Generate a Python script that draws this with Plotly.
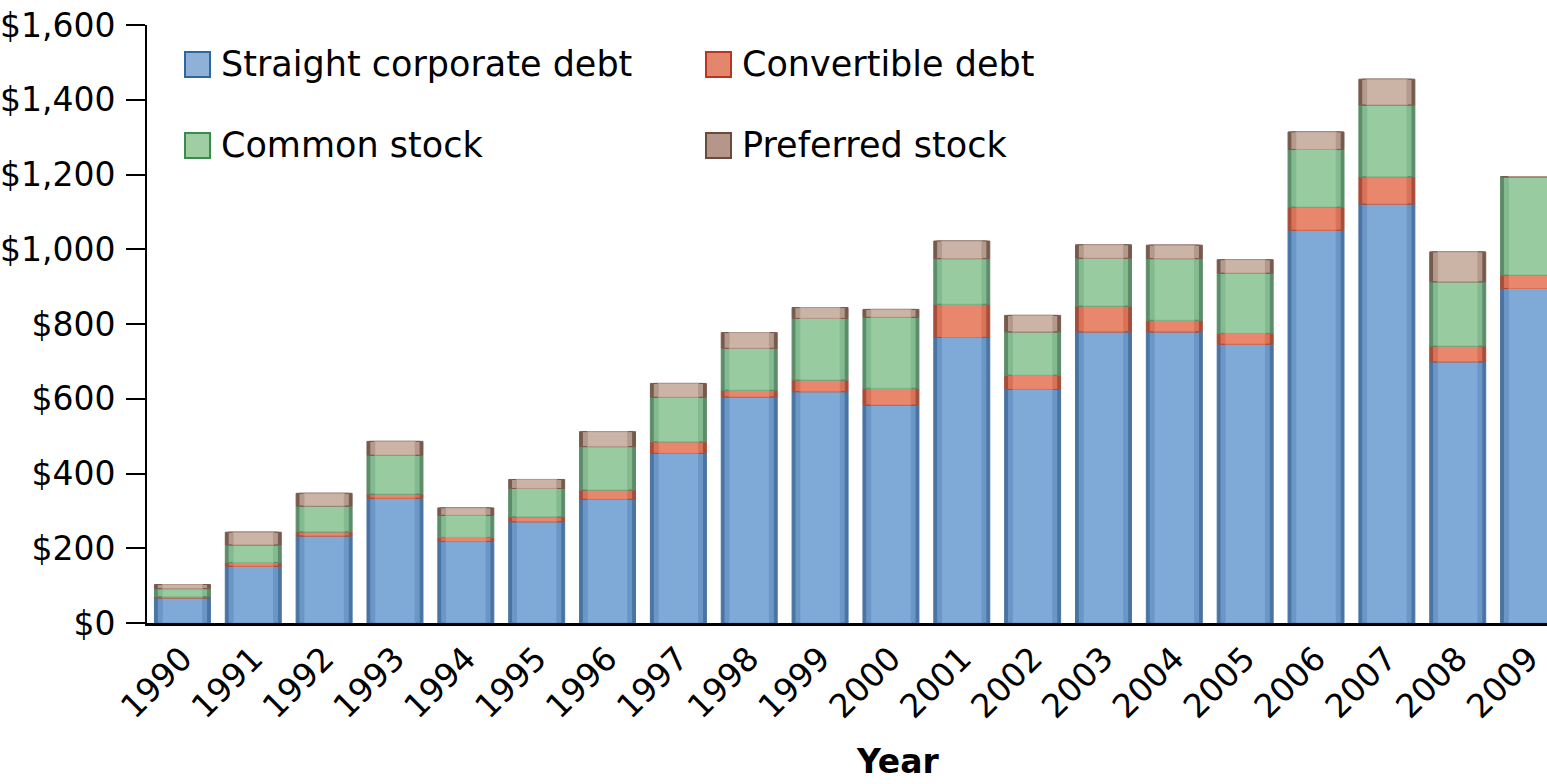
import plotly.graph_objects as go

# Annual issuance by security type ($ billions)
years = list(range(1990, 2010))
year_labels = [str(y) for y in years]

straight_debt = [67, 152, 233, 334, 218, 271, 331, 454, 605, 619,
                 583, 764, 625, 779, 779, 746, 1051, 1121, 699, 895]
convertible_debt = [4, 10, 11, 11, 11, 13, 25, 31, 18, 31,
                    45, 89, 38, 69, 31, 29, 62, 73, 42, 36]
common_stock = [21, 47, 69, 104, 59, 76, 116, 119, 112, 165,
                190, 122, 116, 128, 165, 161, 154, 192, 172, 263]
preferred_stock = [11, 34, 34, 37, 20, 24, 40, 37, 42, 29,
                   21, 47, 44, 36, 36, 36, 47, 69, 80, 0]

y_ticks = [0, 200, 400, 600, 800, 1000, 1200, 1400, 1600]
y_tick_labels = ["$0", "$200", "$400", "$600", "$800",
                 "$1,000", "$1,200", "$1,400", "$1,600"]

series_names = ["Straight corporate debt", "Convertible debt",
                "Common stock", "Preferred stock"]
series_values = [straight_debt, convertible_debt, common_stock, preferred_stock]

# edge / mid / core shades give each column a rounded, shaded look
shades = [
    ("#4a74a3", "#6b97c7", "#7faad8"),
    ("#a64e3a", "#d8735a", "#e8876b"),
    ("#5c8d6a", "#84ba8f", "#98cba0"),
    ("#785a4d", "#b39a8c", "#cbb3a6"),
]
legend_fill = ["#8fb1d7", "#e2866c", "#9fcea2", "#b4968a"]
legend_edge = ["#2d66a0", "#c0321f", "#3b8a4e", "#6b4a3c"]

FONT = "DejaVu Sans"
W, H = 1547, 784
L, R, T, B = 147, 0, 25, 161
PW, PH = W - L - R, H - T - B


def px_x(p):
    return (p - L) / PW


def px_y(p):
    return (H - B - p) / PH


fig = go.Figure()

bases = [0] * len(years)
for name, vals, (edge, mid, core) in zip(series_names, series_values, shades):
    for width, fill, line in ((0.79, edge, edge), (0.71, mid, edge), (0.57, core, mid)):
        fig.add_trace(go.Bar(
            x=years, y=vals, base=list(bases), width=width,
            marker=dict(color=fill, line=dict(color=line, width=1)),
            name=name, showlegend=False, hoverinfo="skip",
        ))
    bases = [b + v for b, v in zip(bases, vals)]

# legend drawn as large swatches with labels
legend_pos = [(185, 52), (706, 52), (185, 133), (706, 133)]
shapes = []
annotations = []
for (lx, ly), name, fill, edge in zip(legend_pos, series_names, legend_fill, legend_edge):
    shapes.append(dict(type="rect", xref="paper", yref="paper",
                       x0=px_x(lx), x1=px_x(lx + 25), y0=px_y(ly + 25), y1=px_y(ly),
                       fillcolor=fill, line=dict(color=edge, width=2)))
    annotations.append(dict(xref="paper", yref="paper", x=px_x(lx + 34), y=px_y(ly + 12),
                            xanchor="left", yanchor="middle", showarrow=False,
                            text=name, font=dict(family=FONT, size=35, color="black")))

annotations.append(dict(xref="paper", yref="paper", x=px_x(898), y=px_y(761),
                        xanchor="center", yanchor="middle", showarrow=False,
                        text="<b>Year</b>", font=dict(family=FONT, size=33, color="black")))

fig.update_layout(
    width=W, height=H,
    margin=dict(l=L, r=R, t=T, b=B, pad=0),
    barmode="overlay",
    plot_bgcolor="white", paper_bgcolor="white",
    showlegend=False,
    shapes=shapes, annotations=annotations,
    font=dict(family=FONT, size=33, color="black"),
    xaxis=dict(
        range=[1989.5, 2009.26], tickvals=years, ticktext=year_labels,
        tickangle=-45, ticks="", showline=True, linecolor="black", linewidth=3,
        showgrid=False, zeroline=False, automargin=False,
        ticklabeloverflow="allow",
        tickfont=dict(family=FONT, size=33, color="black"),
    ),
    yaxis=dict(
        range=[0, 1600], tickvals=y_ticks, ticktext=y_tick_labels,
        ticks="outside", ticklen=19, tickwidth=2, tickcolor="black",
        showline=True, linecolor="black", linewidth=2,
        showgrid=False, zeroline=False, automargin=False,
        ticklabelstandoff=4, ticklabeloverflow="allow",
        tickfont=dict(family=FONT, size=33, color="black"),
    ),
)

fig.write_html("out.html")
